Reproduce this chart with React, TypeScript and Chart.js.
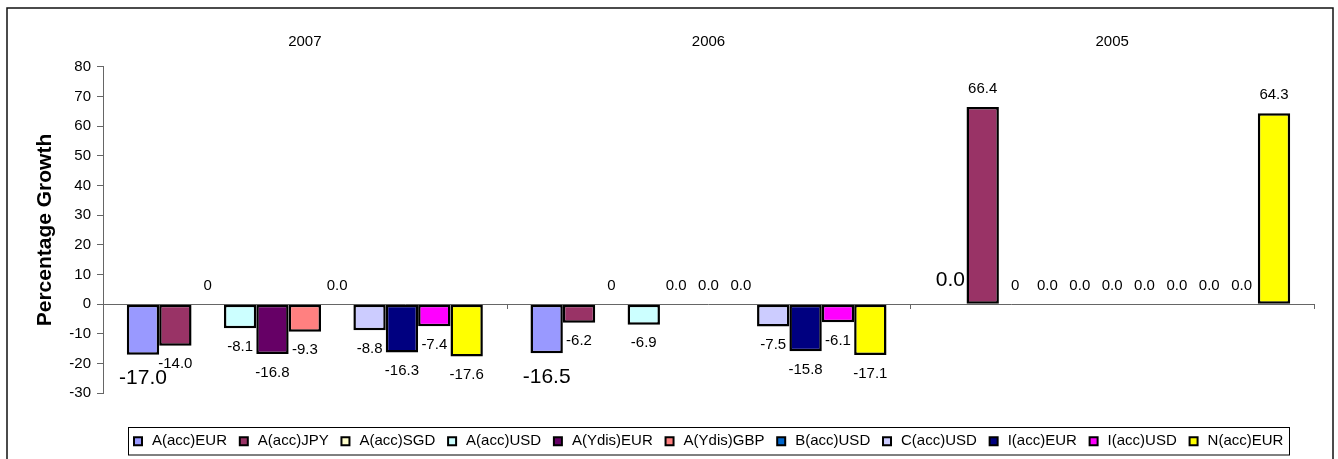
import React, { useEffect, useRef } from "react";
import { Chart, registerables } from "chart.js";

Chart.register(...registerables);

// ---------- data ----------
const categories = ["2007", "2006", "2005"];
const seriesNames = [
  "A(acc)EUR",
  "A(acc)JPY",
  "A(acc)SGD",
  "A(acc)USD",
  "A(Ydis)EUR",
  "A(Ydis)GBP",
  "B(acc)USD",
  "C(acc)USD",
  "I(acc)EUR",
  "I(acc)USD",
  "N(acc)EUR",
];
const aAccEUR = [-17.0, -16.5, 0.0];
const aAccJPY = [-14.0, -6.2, 66.4];
const aAccSGD = [0, 0, 0];
const aAccUSD = [-8.1, -6.9, 0.0];
const aYdisEUR = [-16.8, 0.0, 0.0];
const aYdisGBP = [-9.3, 0.0, 0.0];
const bAccUSD = [0.0, 0.0, 0.0];
const cAccUSD = [-8.8, -7.5, 0.0];
const iAccEUR = [-16.3, -15.8, 0.0];
const iAccUSD = [-7.4, -6.1, 0.0];
const nAccEUR = [-17.6, -17.1, 64.3];
const seriesValues = [
  aAccEUR, aAccJPY, aAccSGD, aAccUSD, aYdisEUR, aYdisGBP,
  bAccUSD, cAccUSD, iAccEUR, iAccUSD, nAccEUR,
];
const labelDecimals = [1, 1, 0, 1, 1, 1, 1, 1, 1, 1, 1];
const yMin = -30;
const yMax = 80;
const yStep = 10;
const yTitle = "Percentage Growth";

// ---------- styles ----------
const seriesColors = [
  "#9999FF", "#993366", "#FFFFCC", "#CCFFFF", "#660066", "#FF8080",
  "#0066CC", "#CCCCFF", "#000080", "#FF00FF", "#FFFF00",
];
const FONT = '"Liberation Sans", Arial, sans-serif';
const W = 1338;
const H = 459;

const decorPlugin = {
  id: "decor",
  beforeDatasetsDraw(chart: any) {
    const { ctx, chartArea, scales } = chart;
    const y0 = scales.y.getPixelForValue(0);
    ctx.save();
    ctx.strokeStyle = "#666";
    ctx.lineWidth = 1;
    ctx.beginPath();
    ctx.moveTo(chartArea.left, Math.round(y0) + 0.5);
    ctx.lineTo(chartArea.right, Math.round(y0) + 0.5);
    const n = categories.length;
    const cw = (chartArea.right - chartArea.left) / n;
    for (let i = 1; i <= n; i++) {
      const x = Math.round(chartArea.left + i * cw) + 0.5;
      ctx.moveTo(x, Math.round(y0));
      ctx.lineTo(x, Math.round(y0) + 5);
    }
    ctx.stroke();
    ctx.restore();
  },
  afterDatasetsDraw(chart: any) {
    const { ctx } = chart;
    ctx.save();
    ctx.fillStyle = "#000";
    ctx.textAlign = "center";
    ctx.textBaseline = "middle";
    chart.data.datasets.forEach((ds: any, di: number) => {
      const meta = chart.getDatasetMeta(di);
      const fs = di === 0 ? 21 : 15;
      ctx.font = `${fs}px ${FONT}`;
      const off = fs * 0.9 + 5;
      meta.data.forEach((el: any, i: number) => {
        const v = ds.data[i];
        const txt = Number(v).toFixed(labelDecimals[di]);
        const y = v < 0 ? el.y + off : el.y - off;
        ctx.fillText(txt, el.x, y);
      });
    });
    ctx.restore();
  },
  afterDraw(chart: any) {
    const { ctx, chartArea, scales } = chart;
    ctx.save();
    // category labels on top
    ctx.fillStyle = "#000";
    ctx.font = `15px ${FONT}`;
    ctx.textAlign = "center";
    ctx.textBaseline = "middle";
    categories.forEach((c, i) => {
      ctx.fillText(c, scales.x.getPixelForValue(i), 42);
    });

    // legend
    ctx.font = `15px ${FONT}`;
    const sq = 8;
    const g1 = 10;
    const g2 = 12.8;
    const pad = 6;
    const widths = seriesNames.map((s) => ctx.measureText(s).width);
    let total = pad * 2;
    widths.forEach((w, i) => {
      total += sq + g1 + w + (i < widths.length - 1 ? g2 : 0);
    });
    const cx = (chartArea.left + chartArea.right) / 2;
    const bx = Math.round(cx - total / 2);
    const by = 427.5;
    const bh = 27.5;
    ctx.strokeStyle = "#000";
    ctx.lineWidth = 1;
    ctx.strokeRect(bx + 0.5, by, Math.round(total), bh);
    let x = bx + pad;
    const cy = by + bh / 2;
    ctx.textAlign = "left";
    seriesNames.forEach((s, i) => {
      ctx.fillStyle = seriesColors[i];
      ctx.fillRect(x, cy - sq / 2, sq, sq);
      ctx.lineWidth = 2;
      ctx.strokeStyle = "#000";
      ctx.strokeRect(x, cy - sq / 2, sq, sq);
      ctx.fillStyle = "#000";
      ctx.fillText(s, x + sq + g1, cy);
      x += sq + g1 + widths[i] + g2;
    });

    // outer border
    ctx.strokeStyle = "#111";
    ctx.lineWidth = 1.5;
    ctx.strokeRect(7, 8, 1326, 480);
    ctx.restore();
  },
};

export default function App() {
  const ref = useRef<HTMLCanvasElement | null>(null);
  useEffect(() => {
    if (!ref.current) return;
    const chart = new Chart(ref.current, {
      type: "bar",
      data: {
        labels: categories,
        datasets: seriesNames.map((name, i) => ({
          label: name,
          data: seriesValues[i],
          backgroundColor: seriesColors[i],
          borderColor: "#000",
          borderWidth: 2.5,
          borderSkipped: false,
          categoryPercentage: 0.882,
          barPercentage: 1,
        })),
      },
      options: {
        responsive: false,
        animation: false,
        devicePixelRatio: 1,
        layout: { padding: { top: 66.7, bottom: 65.7, left: 0, right: 24 } },
        plugins: {
          legend: { display: false },
          tooltip: { enabled: false },
        },
        scales: {
          x: { display: false, offset: true },
          y: {
            min: yMin,
            max: yMax,
            afterFit: (s: any) => {
              s.width = 103;
            },
            ticks: {
              stepSize: yStep,
              color: "#000",
              font: { family: FONT, size: 15 },
              padding: 6,
            },
            grid: {
              drawOnChartArea: false,
              drawTicks: true,
              tickLength: 6,
              color: "#666",
            },
            border: { display: true, color: "#666", width: 1 },
            title: {
              display: true,
              text: yTitle,
              color: "#000",
              font: { family: FONT, size: 21, weight: "bold" },
              padding: { top: 32.4, bottom: 0 },
            },
          },
        },
      },
      plugins: [decorPlugin],
    });
    return () => chart.destroy();
  }, []);
  return (
    <div style={{ position: "fixed", left: 0, top: 0, width: W, height: H, background: "#fff" }}>
      <canvas ref={ref} width={W} height={H} style={{ width: W, height: H, display: "block" }} />
    </div>
  );
}
